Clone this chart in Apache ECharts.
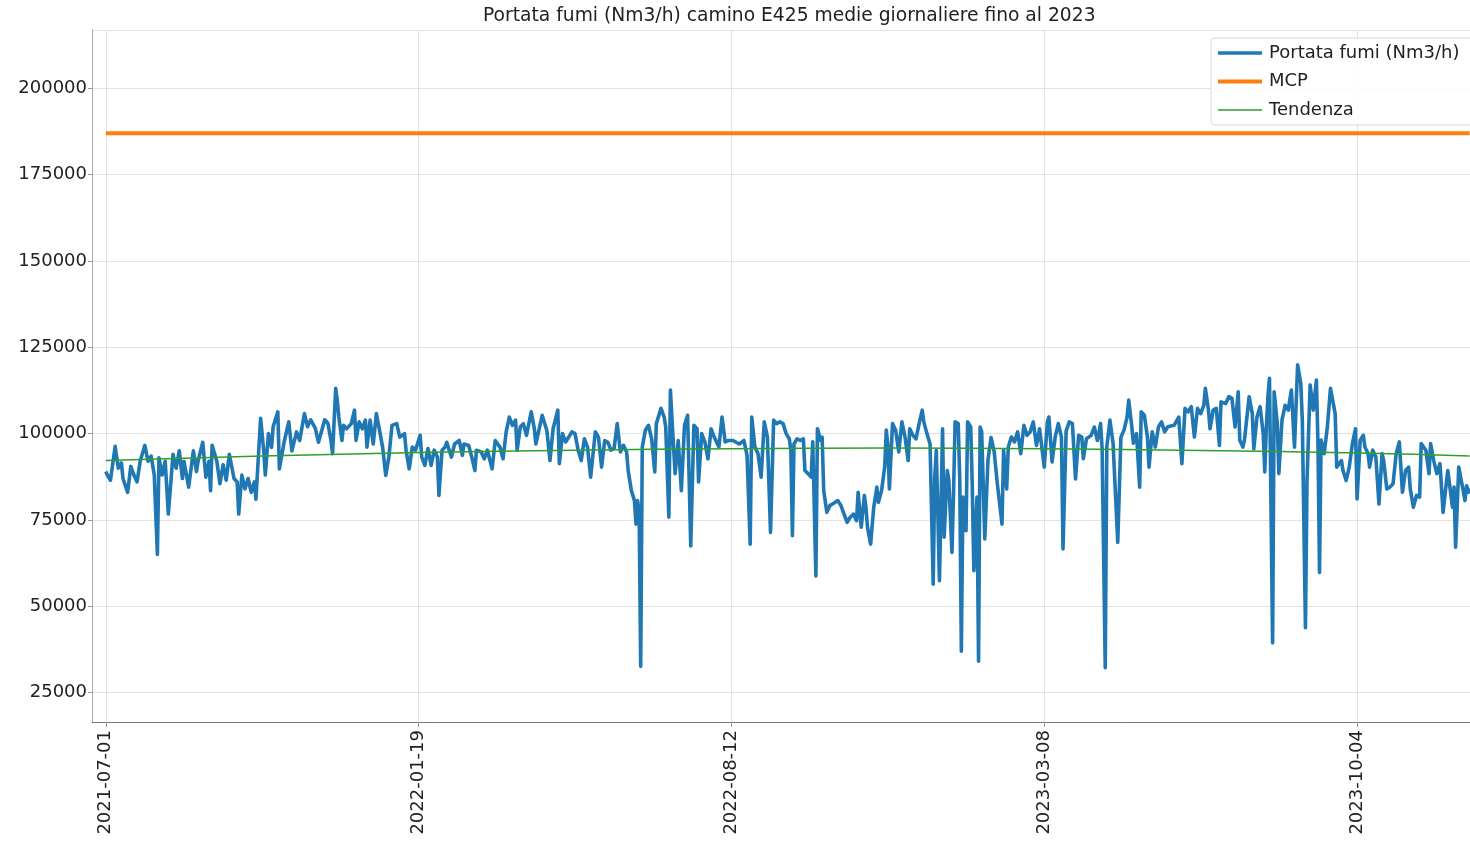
<!DOCTYPE html>
<html>
<head>
<meta charset="utf-8">
<title>Portata fumi camino E425</title>
<script src="https://cdn.jsdelivr.net/npm/echarts@6/dist/echarts.min.js"></script>
<style>
  html, body { margin: 0; padding: 0; background: #fff; }
  #chart { width: 1470px; height: 843px; }
</style>
</head>
<body>
<div id="chart"></div>
<script>
// x tick labels, one every 200 daily samples
const tickDates = ['2021-07-01', '2022-01-19', '2022-08-12', '2023-03-08', '2023-10-04']
const tickStep = 200

// daily means at peaks / dips (day index counted from 2021-07-01)
const days = [
  0, 1, 3, 6, 8, 10, 11, 14, 16, 18, 20, 22, 25, 27, 29, 31, 33, 34, 36, 38,
  40, 43, 45, 47, 49, 50, 53, 56, 58, 59, 62, 64, 66, 67, 68, 71, 73, 75, 77, 79,
  82, 84, 85, 87, 89, 91, 93, 95, 96, 99, 101, 102, 104, 106, 107, 110, 111, 114, 117, 119,
  122, 124, 127, 129, 131, 134, 136,
  140, 142, 144, 145, 147, 148, 149, 151, 152, 154, 157, 159, 160, 162, 164, 166, 167, 169, 171, 173,
  175, 177, 179, 181, 183, 186, 188, 191, 192, 194, 196, 198, 201, 202, 204, 206, 208, 210, 212, 213,
  215, 217, 218, 221, 223, 226, 228, 229, 232, 234, 236, 237, 240, 242, 244, 247, 249, 252, 254, 256,
  258, 260, 262, 263, 265, 267, 269, 272, 274, 275, 279, 282, 284,
  286, 289, 290, 292, 294, 296, 298, 300, 302, 304, 306, 308, 310, 313, 315, 317, 319, 321, 323, 325,
  327, 329, 331, 333, 334, 336, 338, 339, 340, 341, 342, 343, 345, 347, 349, 351, 352, 355, 357, 358,
  360, 361, 363, 364, 366, 368, 370, 372, 374, 376, 378, 379, 381, 383, 385, 387, 389, 392, 394, 396,
  398, 401, 405, 408, 410, 412, 413, 415, 417, 419, 421, 423, 425, 427,
  429, 431, 433, 435, 437, 438, 439, 440, 442, 444, 446, 447, 449, 451, 452, 454, 455, 457, 458, 459,
  461, 463, 465, 468, 470, 472, 474, 476, 478, 480, 481, 483, 485, 486, 487, 489, 491, 493, 494, 496,
  498, 499, 500, 501, 503, 505, 507, 509, 511, 513, 514, 516, 518, 520, 522, 523, 525, 527, 529, 530,
  531, 533, 535, 536, 538, 539, 541, 542, 543, 545, 546, 547, 548, 550, 551, 553, 554, 555, 557, 558,
  559, 560, 562, 564, 566, 568, 570, 573,
  574, 576, 577, 579, 581, 583, 585, 587, 589, 591, 593, 595, 597, 600, 602, 603, 605, 607, 609, 611,
  612, 614, 616, 618, 620, 622, 624, 625, 627, 630, 632, 634, 636, 637, 639, 640, 642, 644, 645, 647,
  649, 651, 653, 654, 656, 657, 659, 661, 662, 664, 666, 667, 669, 671, 673, 675, 677, 679, 683, 686,
  688, 690, 692, 694, 696, 698, 700, 702, 703, 705, 706, 708, 710, 712, 713, 716, 718, 720, 722,
  724, 725, 727, 728, 731, 733, 734, 736, 738, 740, 741, 742, 743, 744, 746, 747, 749, 750, 752, 754,
  756, 758, 760, 762, 764, 765, 767, 768, 770, 772, 774, 775, 776, 777, 779, 781, 783, 786, 787, 790,
  791, 793, 795, 797, 799, 800, 802, 804, 805, 807, 808, 810, 812, 814, 816, 817, 819, 821, 823, 825,
  827, 829, 831, 833, 834, 836, 838, 840, 841, 844, 846, 847, 849, 851, 853, 855, 857, 858, 861, 862,
  863, 865, 867, 869, 870, 872
]
const flow = [
  89000, 88000, 86500, 96300, 90000, 91500, 87000, 83000, 90500, 88000, 86000, 92000, 96600, 92000, 93500, 88000, 65000, 93000, 88000, 92000,
  76700, 94000, 90000, 95000, 87000, 92000, 84500, 95000, 89000, 92000, 97500, 87400, 92000, 83500, 96600, 92000, 85500, 91000, 86500, 94000,
  87000, 86000, 76700, 88000, 84000, 87000, 83000, 86000, 81000, 104400, 95000, 88000, 100000, 96000, 102000, 106300, 89800, 97500, 103400, 95000,
  100500, 98000, 105800, 102000, 104000, 101500, 97500,
  104000, 103000, 98000, 94200, 113100, 109700, 104800, 98000, 102400, 101400, 102900, 106800, 98000, 103400, 101400, 103900, 96100, 103900, 97000, 105800,
  101000, 96100, 87900, 93200, 102400, 102900, 99000, 100000, 95200, 89800, 96100, 95200, 99500, 93200, 90800, 95700, 90800, 95200, 93200, 82100,
  95200, 96100, 97500, 93200, 97000, 98000, 93700, 97000, 96600, 93200, 89300, 95200, 94700, 92700, 95200, 89800, 98000, 96100, 92700, 100500,
  104800, 102400, 103900, 95200, 101900, 102900, 99500, 106300, 101400, 97000, 105300, 100900, 92200,
  101400, 106800, 91300, 100000, 97600, 99000, 100500, 100000, 95200, 92200, 98500, 96100, 87400, 100500, 99000, 90300, 98000, 97500, 95200, 95700,
  102900, 94700, 96600, 94700, 89300, 83500, 80600, 73800, 80600, 77700, 32600, 96100, 101000, 102400, 98500, 88900, 102900, 107300, 104800, 101900,
  75800, 112600, 96100, 88400, 98000, 83500, 102400, 105300, 67500, 102400, 101400, 86000, 100000, 97600, 92700, 101400, 99000, 96100, 104800, 97600,
  98000, 98000, 97000, 98000, 93700, 68000, 104800, 96100, 94200, 87400, 103400, 99000, 71400, 103900,
  102900, 103400, 102900, 100000, 98500, 95200, 70400, 97000, 98500, 98000, 98500, 89300, 88400, 87400, 97600, 58800, 101400, 98000, 99000, 83500,
  77200, 79200, 79700, 80600, 79200, 76700, 74300, 75800, 76700, 74800, 83000, 72900, 82100, 78700, 72900, 68000, 78700, 84500, 80100, 83500,
  90300, 101000, 96600, 84000, 102900, 101000, 94700, 103400, 99000, 92200, 101400, 99500, 98500, 102900, 106800, 103400, 100000, 97000, 56400, 87400,
  95200, 57400, 101400, 70000, 89300, 86500, 65600, 82600, 103400, 102900, 86500, 37000, 81600, 71900, 103400, 101900, 84500, 60300, 81600, 34100,
  101900, 100500, 69500, 92200, 98900, 94700, 85500, 73800,
  95200, 84000, 96100, 99000, 97600, 100500, 94200, 102400, 99500, 100500, 103400, 96600, 101400, 90300, 103400, 104800, 91800, 99000, 102900, 99000,
  66600, 100800, 103400, 102900, 86900, 99500, 99000, 92700, 98500, 99500, 101900, 98000, 102900, 95700, 32200, 96100, 103900, 97200, 97200, 68500,
  98900, 101000, 104800, 109700, 101900, 97200, 100000, 84500, 106300, 105300, 98900, 90300, 100500, 96100, 101900, 103400, 100500, 102000, 102400, 104800,
  91300, 107300, 106300, 107800, 99000, 107300, 105800, 108200, 113100, 106800, 101400, 106800, 107300, 96600, 109200, 108700, 110700, 110200, 101900,
  112100, 98100, 96100, 98100, 110700, 105800, 95600, 104800, 107800, 100000, 88900, 101900, 110700, 116000, 39400, 112100, 102900, 88400, 103900, 108200,
  106800, 112600, 96100, 119900, 114600, 103900, 43800, 86400, 114100, 106800, 115500, 97100, 59800, 98100, 94200, 101900, 113100, 105800, 90300, 92200,
  89300, 86400, 90300, 97100, 101400, 81100, 98100, 99500, 96100, 94200, 90300, 95200, 93200, 79600, 94200, 92200, 84000, 84500, 85500, 94200,
  97600, 83000, 89300, 90300, 84000, 78700, 82100, 81600, 97100, 95200, 88400, 97100, 92200, 88400, 91300, 77200, 85500, 89300, 78700, 84500,
  67100, 90300, 85500, 80600, 84900, 82600
]

// fitted trend (Tendenza)
const trendDays = [0, 100, 200, 300, 400, 500, 600, 700, 800, 872]
const trendFlow = [92200, 93500, 94500, 95200, 95600, 95800, 95600, 95100, 94400, 93500]

// MCP limit
const mcpLimit = 187000

const chart = echarts.init(document.getElementById('chart'))
const labelFont = { fontFamily: 'DejaVu Sans', fontSize: 18, color: '#222' }

chart.setOption({
  animation: false,
  title: {
    text: 'Portata fumi (Nm3/h) camino E425 medie giornaliere fino al 2023',
    left: 483,
    top: 7,
    padding: 0,
    textStyle: { fontFamily: 'DejaVu Sans', fontSize: 18.7, fontWeight: 'normal', color: '#222' }
  },
  legend: {
    orient: 'vertical',
    left: 1211,
    top: 38,
    padding: [6, 30, 6, 5],
    itemWidth: 44,
    itemHeight: 18,
    itemGap: 10.5,
    backgroundColor: 'rgba(255, 255, 255, 0.85)',
    borderColor: '#d8d8d8',
    borderWidth: 1,
    borderRadius: 4,
    itemStyle: { opacity: 0 },
    lineStyle: { width: 'inherit' },
    textStyle: { ...labelFont, padding: [0, 0, 0, 2] },
    data: ['Portata fumi (Nm3/h)', 'MCP', 'Tendenza']
  },
  grid: { left: 92, right: 0, top: 30, bottom: 121 },
  xAxis: {
    type: 'value',
    min: -8.8,
    max: 872.2,
    splitNumber: 5,
    minInterval: tickStep,
    maxInterval: tickStep,
    axisLine: { onZero: false, lineStyle: { color: '#777', width: 1 } },
    axisTick: { length: 5, lineStyle: { color: '#999' } },
    axisLabel: {
      ...labelFont,
      rotate: 90,
      margin: 8,
      showMinLabel: false,
      showMaxLabel: false,
      formatter: (v) => {
        const i = Math.round(v / tickStep)
        return Math.abs(v - i * tickStep) < 1e-6 && tickDates[i] ? tickDates[i] : ''
      }
    },
    splitLine: { show: true, lineStyle: { color: '#e2e2e2' } }
  },
  yAxis: {
    type: 'value',
    min: 16480,
    max: 216890,
    splitNumber: 10,
    minInterval: 25000,
    maxInterval: 25000,
    axisLine: { show: true, onZero: false, lineStyle: { color: '#aaa', width: 1 } },
    axisTick: { show: true, length: 4, lineStyle: { color: '#999' } },
    axisLabel: {
      ...labelFont,
      margin: 5,
      showMinLabel: false,
      showMaxLabel: false,
      formatter: (v) => String(v)
    },
    splitLine: { show: true, lineStyle: { color: '#e2e2e2' } }
  },
  series: [
    {
      name: 'Portata fumi (Nm3/h)',
      type: 'line',
      symbol: 'none',
      lineStyle: { color: '#1f77b4', width: 3.6, join: 'round' },
      itemStyle: { color: '#1f77b4' },
      data: days.map((d, i) => [d, flow[i]])
    },
    {
      name: 'MCP',
      type: 'line',
      symbol: 'none',
      lineStyle: { color: '#ff7f0e', width: 4 },
      itemStyle: { color: '#ff7f0e' },
      data: [[days[0], mcpLimit], [days[days.length - 1], mcpLimit]]
    },
    {
      name: 'Tendenza',
      type: 'line',
      symbol: 'none',
      smooth: true,
      lineStyle: { color: '#2ca02c', width: 1.5 },
      itemStyle: { color: '#2ca02c' },
      data: trendDays.map((d, i) => [d, trendFlow[i]])
    }
  ]
})
</script>
</body>
</html>
